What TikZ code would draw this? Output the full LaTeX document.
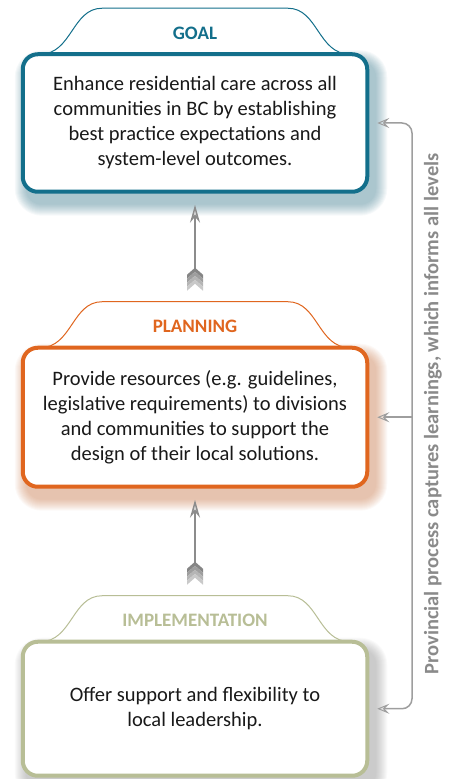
\documentclass[tikz,border=0pt]{standalone}
\usepackage{fontspec}
\setmainfont{Carlito}
\usepackage{tikz}
\usetikzlibrary{positioning,calc,arrows.meta,backgrounds}

\definecolor{goalteal}{HTML}{136F8B}
\definecolor{planorange}{HTML}{E0661F}
\definecolor{implsage}{HTML}{B8BE96}
\definecolor{arrowgray}{HTML}{8C8C8C}
\definecolor{railgray}{HTML}{9E9E9E}
\definecolor{notegray}{HTML}{8A8A8A}

\tikzset{
    levelbox/.style={draw, line width=4pt, fill=white, rounded corners=15pt,
        minimum width=344.5pt, align=center, text=black!90,
        font=\fontsize{20.5}{25}\selectfont},
    tabtitle/.style={font=\fontsize{19}{20}\selectfont\bfseries},
    uparrow/.style={draw=arrowgray, line width=1.5pt,
        -{Stealth[length=18pt, width=10pt, inset=6pt, fill=gray!25, color=arrowgray]}},
    feedtip/.tip={Stealth[length=12pt, width=10pt, inset=5pt, open, line width=1pt]},
    feedback/.style={draw=railgray, line width=1.5pt, rounded corners=10pt},
    sidenote/.style={font=\fontsize{20.5}{22}\selectfont\bfseries, text=notegray},
    fletching/.pic={
        \foreach \k/\c in {0/48,1/38,2/29,3/21}
            \fill[black!\c] (0,22-4*\k) -- (8,15-4*\k) -- (8,11-4*\k) -- (0,18-4*\k)
                -- (-8,11-4*\k) -- (-8,15-4*\k) -- cycle;
    }
}

% soft coloured shadow under a box
\newcommand{\boxshadow}[2]{%
    \foreach \s [evaluate=\s as \r using 15+\s] in {1,...,12}
        \fill[#2, opacity=0.042, rounded corners=\r pt]
            ([shift={(6-\s,-10+\s)}]#1.north west) rectangle ([shift={(6+\s,-10-\s)}]#1.south east);
}

% header tab sitting on top of a box
\newcommand{\leveltab}[2]{%
    \draw[#2, line width=1pt, fill=white] ([xshift=-155pt,yshift=-2pt]#1.north)
        .. controls +(32,0) and +(-30,0) .. ++(62,46) -- ++(186,0)
        .. controls +(30,0) and +(-32,0) .. ++(62,-46);
}

\begin{document}
\begin{tikzpicture}[x=1pt, y=1pt]
    \useasboundingbox (0,0) rectangle (455,779);

    % the three levels
    \node[levelbox, draw=goalteal, minimum height=137.5pt] (goal) at (195,656)
        {Enhance residential care across all\\communities in BC by establishing\\best practice expectations and\\system-level outcomes.};
    \node[levelbox, draw=planorange, minimum height=139pt, below=152pt of goal] (planning)
        {Provide resources (e.g. guidelines,\\legislative requirements) to divisions\\and communities to support the\\design of their local solutions.};
    \node[levelbox, draw=implsage, minimum height=134pt, below=151pt of planning] (implementation)
        {Offer support and flexibility to\\local leadership.};

    % shadows and tabs behind the boxes
    \begin{scope}[on background layer]
        \boxshadow{goal}{goalteal!70!gray}
        \boxshadow{planning}{planorange!70!gray}
        \boxshadow{implementation}{gray}
        \leveltab{goal}{goalteal}
        \leveltab{planning}{planorange}
        \leveltab{implementation}{implsage}
    \end{scope}

    \node[tabtitle, text=goalteal] (goaltitle) at ([yshift=19pt]goal.north) {GOAL};
    \node[tabtitle, text=planorange] (planningtitle) at ([yshift=19pt]planning.north) {PLANNING};
    \node[tabtitle, text=implsage] (implementationtitle) at ([yshift=19pt]implementation.north) {IMPLEMENTATION};

    \coordinate (planningtop) at ([yshift=44pt]planning.north);
    \coordinate (implementationtop) at ([yshift=44pt]implementation.north);

    % upward arrows with fletched tails
    \draw[uparrow, shorten <=30pt, shorten >=11pt] (planningtop) -- (goal.south);
    \pic at ([yshift=12pt]planningtop) {fletching};
    \draw[uparrow, shorten <=30pt, shorten >=11pt] (implementationtop) -- (planning.south);
    \pic at ([yshift=12pt]implementationtop) {fletching};

    % feedback rail on the right
    \coordinate (rail) at (412,365);
    \draw[feedback, feedtip-feedtip, shorten <=8pt, shorten >=8pt]
        (implementation.east) -- (rail |- implementation.east) -- (rail |- goal.east) -- (goal.east);
    \draw[feedback, -feedtip, shorten >=8pt] (rail |- planning.east) -- (planning.east);
    \node[sidenote, rotate=90] (processnote) at (433,365)
        {Provincial process captures learnings, which informs all levels};
\end{tikzpicture}
\end{document}
